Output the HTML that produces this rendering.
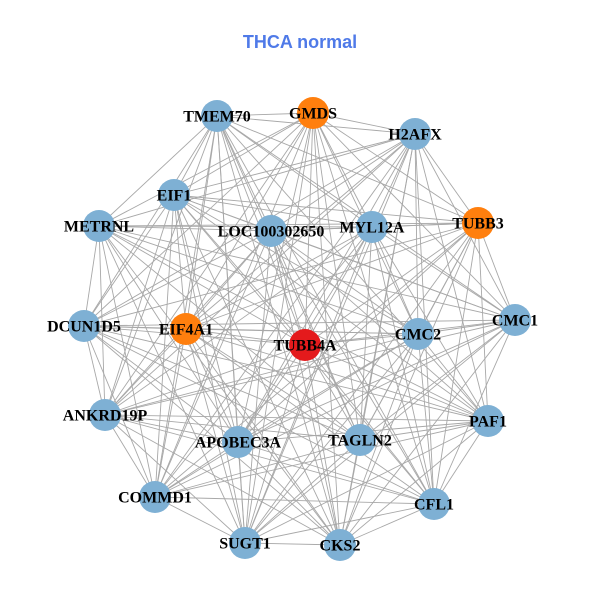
<!DOCTYPE html>
<html><head><meta charset="utf-8"><style>
html,body{margin:0;padding:0;background:#fff;}
svg{display:block;}
text.l{font-family:"Liberation Serif",serif;font-weight:bold;font-size:16px;fill:#000;}
</style></head><body>
<svg id="s" width="600" height="600" xmlns="http://www.w3.org/2000/svg">
<rect width="600" height="600" fill="#fff"/>
<text x="300" y="48" text-anchor="middle" font-family="Liberation Sans,sans-serif" font-weight="bold" font-size="18" fill="#4f7ae8">THCA normal</text>
<g id="e" stroke="#a8a8a8" stroke-width="0.9"></g>
<g id="n"></g>
</svg>
<script>
var N=[["TMEM70",217,116,"b"],["GMDS",313,113,"o"],["H2AFX",415,134,"b"],["EIF1",174,195,"b"],["METRNL",99,226,"b"],["LOC100302650",271,231,"b"],["MYL12A",372,227,"b"],["TUBB3",478,223,"o"],["DCUN1D5",84,326,"b"],["EIF4A1",186,329,"o"],["TUBB4A",305,345,"r"],["CMC2",418,334,"b"],["CMC1",515,320,"b"],["ANKRD19P",105,415,"b"],["APOBEC3A",238,442,"b"],["TAGLN2",360,440,"b"],["PAF1",488,421,"b"],["COMMD1",155,497,"b"],["SUGT1",245,543,"b"],["CKS2",340,545,"b"],["CFL1",434,504,"b"]];
var C={b:"#7eb0d4",o:"#ff7f0e",r:"#e41a1c"};
var ns="http://www.w3.org/2000/svg",e=document.getElementById("e"),g=document.getElementById("n");
for(var i=0;i<N.length;i++)for(var j=i+1;j<N.length;j++){
 if((i*7+j*3)%11==0)continue;
 var l=document.createElementNS(ns,"line");
 l.setAttribute("x1",N[i][1]);l.setAttribute("y1",N[i][2]);l.setAttribute("x2",N[j][1]);l.setAttribute("y2",N[j][2]);e.appendChild(l);}
N.forEach(function(d){var c=document.createElementNS(ns,"circle");c.setAttribute("cx",d[1]);c.setAttribute("cy",d[2]);c.setAttribute("r",16);c.setAttribute("fill",C[d[3]]);g.appendChild(c);});
N.forEach(function(d){var t=document.createElementNS(ns,"text");t.setAttribute("x",d[1]);t.setAttribute("y",d[2]+5.5);t.setAttribute("text-anchor","middle");t.setAttribute("class","l");t.textContent=d[0];g.appendChild(t);});
</script>
</body></html>
